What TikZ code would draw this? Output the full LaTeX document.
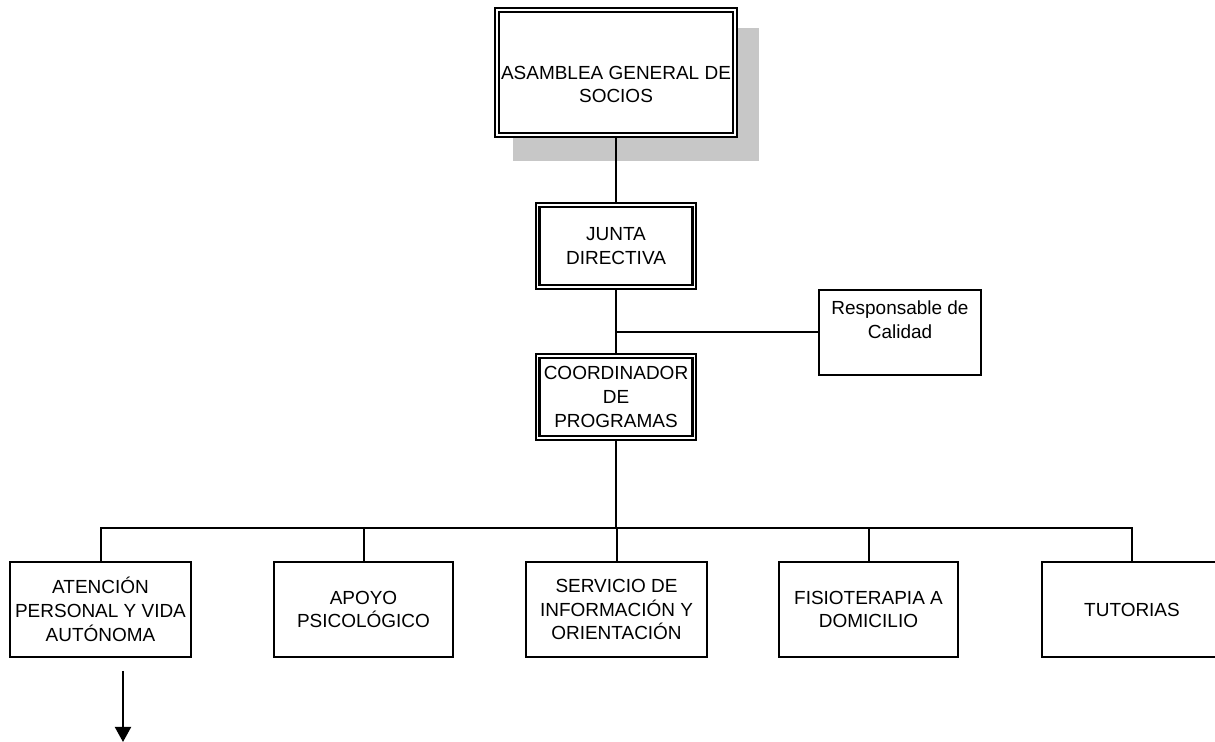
\documentclass[tikz,border=0pt]{standalone}
\usepackage{fontspec}
\setmainfont{Liberation Sans}
\usepackage{tikz}
\usetikzlibrary{arrows.meta}
\tikzstyle{every node}=[font=\fontsize{10.8}{13.6}\selectfont, align=center, inner sep=0pt]
\tikzset{dbox/.style={draw, fill=white, double, double distance=0.03cm, line width=0.045cm,
      minimum width=3.14cm, minimum height=1.64cm}}
\tikzset{sbox/.style={draw, fill=white, line width=0.04cm, minimum width=3.6cm, minimum height=1.9cm}}
\tikzset{link/.style={line width=0.04cm}}

\begin{document}
\begin{tikzpicture}[x=0.02cm,y=-0.02cm]
    \useasboundingbox (0,0) rectangle (1215,742);
    % grey shadow behind the top box
    \fill[black!22] (513,28) rectangle (759,161);
    \node[dbox, minimum width=4.76cm, minimum height=2.5cm] (asamblea) at (616,72.5) {};
    \node (asambleatxt) at (616,84.5) {ASAMBLEA GENERAL DE\\SOCIOS};
    \node[dbox] (junta) at (616,246) {JUNTA\\DIRECTIVA};
    \node[dbox] (coord) at (616,397) {COORDINADOR\\DE\\PROGRAMAS};
    \node[sbox, minimum width=3.24cm, minimum height=1.7cm] (calidad) at (900,332.5) {};
    \node (calidadtxt) at (900,320) {Responsable de\\Calidad};
    % programas
    \node[sbox, minimum width=3.62cm] (atencion) at (100.5,609.5) {ATENCI\'ON\\PERSONAL Y VIDA\\AUT\'ONOMA};
    \node[sbox, minimum width=3.58cm] (apoyo) at (363.5,609.5) {APOYO\\PSICOL\'OGICO};
    \node[sbox, minimum width=3.62cm] (servicio) at (616.5,609.5) {SERVICIO DE\\INFORMACI\'ON Y\\ORIENTACI\'ON};
    \node[sbox, minimum width=3.58cm] (fisio) at (868.5,609.5) {FISIOTERAPIA A\\DOMICILIO};
    \node[sbox, minimum width=3.62cm] (tutorias) at (1132,609.5) {TUTORIAS};
    \coordinate (bus) at (616,528);
    \coordinate (flechaini) at (123,671);
    \coordinate (flechafin) at (123,742);

    \draw[link] (asamblea.south) -- (junta.north);
    \draw[link] (junta.south) -- (coord.north);
    \draw[link] (junta.south |- calidad.west) -- (calidad.west);
    \draw[link] (coord.south) -- (bus);
    \foreach \prog in {atencion,apoyo,servicio,fisio,tutorias}
      \draw[link] (bus) -| (\prog.north);
    \draw[link,-{Triangle[width=0.32cm,length=0.3cm]}] (flechaini) -- (flechafin);
\end{tikzpicture}
\end{document}
